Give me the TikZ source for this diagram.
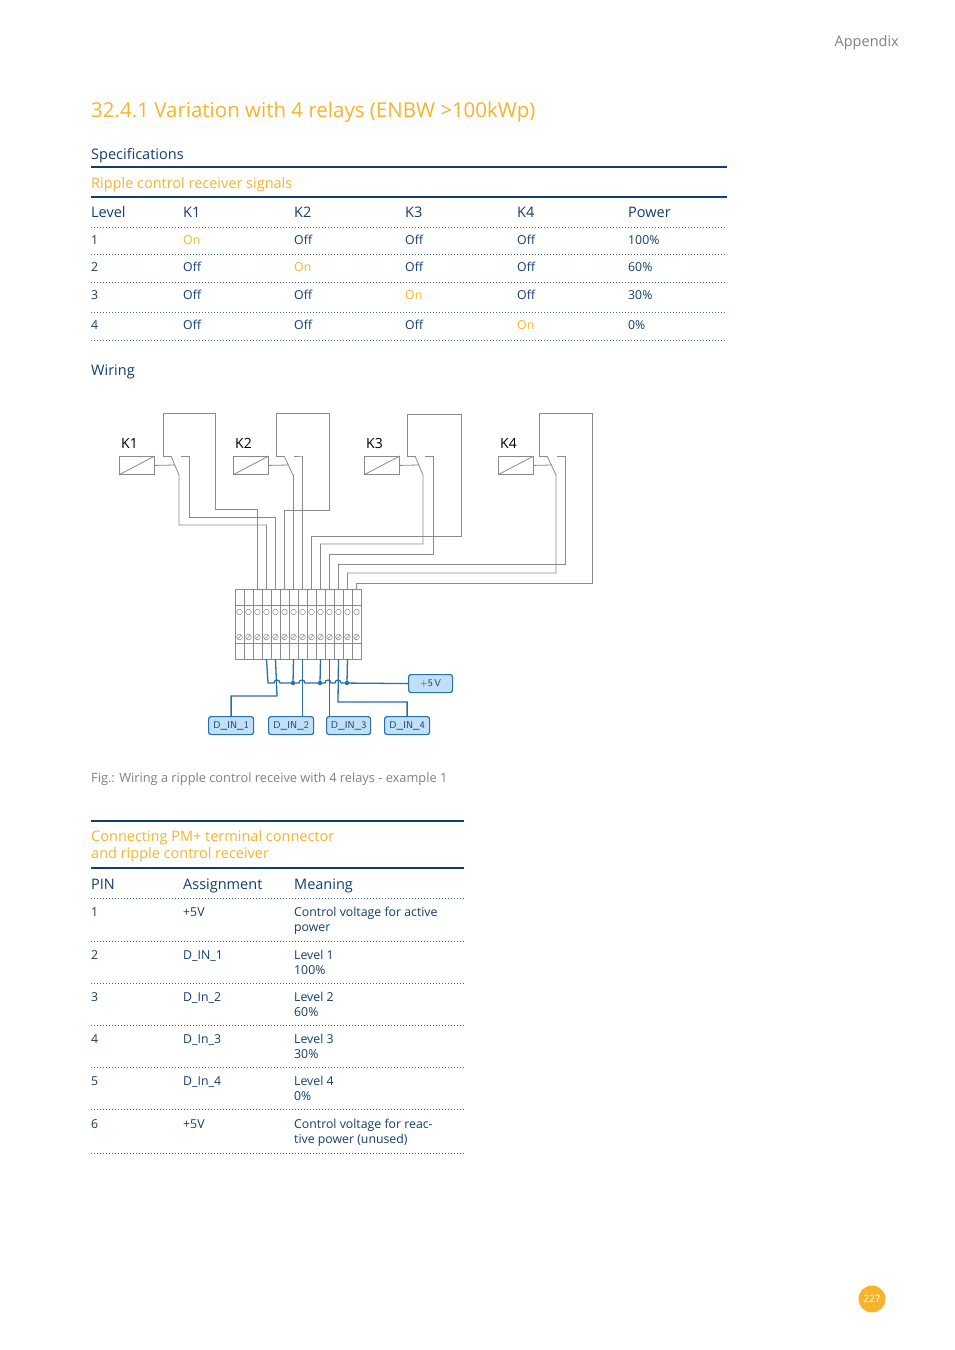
\documentclass[tikz,border=0pt]{standalone}
\usepackage{fontspec}
\setmainfont{Open Sans}
\definecolor{navy}{HTML}{123D6E}
\definecolor{sun}{HTML}{F6B42C}
\definecolor{wire}{HTML}{8A8A8A}
\definecolor{bus}{HTML}{2A6FA8}
\definecolor{pinfill}{HTML}{BFE0F5}
\tikzset{
  txt/.style={anchor=base west, inner sep=0pt, font=\fontsize{12.3}{14}\selectfont, text=navy},
  hdr/.style={anchor=base west, inner sep=0pt, font=\fontsize{14.5}{17}\selectfont, text=navy},
  orng/.style={anchor=base west, inner sep=0pt, font=\fontsize{14.5}{17}\selectfont, text=sun},
  thick rule/.style={navy, line width=2.6pt},
  dotrule/.style={navy!80, line width=0.9pt, dash pattern=on 0.9pt off 2.1pt},
  coil/.style={draw=wire, line width=0.8pt, minimum width=35pt, minimum height=18pt, inner sep=0pt},
  gw/.style={wire, line width=0.8pt},
  bw/.style={bus, line width=1.3pt},
  pin/.style={draw=bus, line width=1.2pt, fill=pinfill, rounded corners=2.5pt, minimum width=44pt,
    minimum height=18pt, inner sep=0pt, font=\sffamily\fontsize{10}{11}\selectfont, text=navy}
}
\begin{document}
\begin{tikzpicture}[x=1pt,y=-1pt]
  \useasboundingbox (0,0) rectangle (954,1350);

  \node[anchor=base east, inner sep=0pt, font=\fontsize{14.5}{17}\selectfont, text=gray] (app) at (899,46) {Appendix};
  \node[anchor=base west, inner sep=0pt, font=\fontsize{20.5}{24}\selectfont, text=sun] (title) at (91,117)
    {32.4.1 Variation with 4 relays (ENBW >100kWp)};

  %% specification table
  \node[hdr] (spec) at (91,159) {Specifications};
  \draw[thick rule] (91,167) -- (727,167);
  \node[orng] (ripple) at (91,188) {Ripple control receiver signals};
  \draw[thick rule] (91,197) -- (727,197);
  \foreach \t/\x in {Level/91,K1/183,K2/294,K3/405,K4/517,Power/628}
    \node[hdr] at (\x,217) {\t};
  \foreach \y in {227,254,282,312,340}
    \draw[dotrule] (91,\y) -- (727,\y);
  \foreach \lv/\y/\pw in {1/244/100\%,2/271/60\%,3/299/30\%,4/329/0\%} {
    \node[txt] at (91,\y) {\lv};
    \foreach \k/\x in {1/183,2/294,3/405,4/517} {
      \ifnum\k=\lv
        \node[txt, text=sun] at (\x,\y) {On};
      \else
        \node[txt] at (\x,\y) {Off};
      \fi
    }
    \node[txt] at (628,\y) {\pw};
  }

  \node[hdr] (wiring) at (91,375) {Wiring};

  %% relays
  \foreach \n/\x in {1/119,2/233,3/364,4/498} {
    \node[coil, anchor=north west] (k\n) at (\x,456) {};
    \draw[gw] (k\n.south west) -- (k\n.north east);
    \node[anchor=base west, inner sep=0pt, font=\fontsize{14}{16}\selectfont] at (\x+2,448) {K\n};
  }

  %% terminal block
  \node[draw=wire, line width=0.8pt, minimum width=126pt, minimum height=70pt, inner sep=0pt,
    anchor=north west] (block) at (235,589) {};
  \draw[gw] (235,605) -- (361,605) (235,643) -- (361,643);
  \foreach \i in {0,...,13} {
    \coordinate (t\i) at (239.5+9*\i,589);
    \coordinate (b\i) at (239.5+9*\i,659);
    \draw[gw] (235+9*\i,589) -- (235+9*\i,659);
    \draw[wire, line width=0.5pt] (239.5+9*\i,612) circle (2.8);
    \draw[wire, line width=0.5pt] (239.5+9*\i,637) circle (2.8);
    \draw[wire, line width=0.5pt] (237.5+9*\i,639) -- (241.5+9*\i,635);
  }

  %% relay contacts to terminals
  \draw[gw] (171,456) -- (163,456) -- (163,413) -- (215,413) -- (215,509) -| (t2);
  \draw[gw] (k1.east) -- (175,465) (171,456) -- (179,475) -- (179,525) -| (t3);
  \draw[gw] (181,456) -- (189,456) -- (189,517) -| (t4);

  \draw[gw] (284,456) -- (276,456) -- (276,413) -- (329,413) -- (329,510) -| (t5);
  \draw[gw] (k2.east) -- (289,465) (284,456) -- (293,475) -| (t6);
  \draw[gw] (294,456) -- (303,456) -| (t7);

  \draw[gw] (415,456) -- (407,456) -- (407,414) -- (461,414) -- (461,536) -| (t8);
  \draw[gw] (k3.east) -- (419,465) (415,456) -- (423,475) -- (423,544) -| (t9);
  \draw[gw] (425,456) -- (433,456) -- (433,554) -| (t10);

  \draw[gw] (547,456) -- (539,456) -- (539,413) -- (592,413) -- (592,583) -| (t13);
  \draw[gw] (k4.east) -- (552,465) (547,456) -- (556,475) -- (556,573) -| (t12);
  \draw[gw] (557,456) -- (565,456) -- (565,564) -| (t11);

  %% digital inputs
  \node[pin, anchor=north west] (v5) at (408,674) {+5\,V};
  \node[pin, anchor=north west, minimum width=45pt] (in1) at (208,716) {D\_IN\_1};
  \node[pin, anchor=north west, minimum width=45pt] (in2) at (268,716) {D\_IN\_2};
  \node[pin, anchor=north west, minimum width=44pt] (in3) at (326,716) {D\_IN\_3};
  \node[pin, anchor=north west, minimum width=45pt] (in4) at (384,716) {D\_IN\_4};

  \draw[bw] (b3) -- (268,683) -- (274,683) arc(180:360:3) -- (299,683) arc(180:360:3)
    -- (325,683) arc(180:360:3) -- (335,683) arc(180:360:3) -- (v5.west);
  \draw[bw] (b6) -- (293,683) (b9) -- (320,683) (b12) -- (347,683);
  \foreach \x in {293,320,347}
    \fill[bus] (\x,683) circle (2.2);
  \draw[bw] (b4) -- (277,696) -| (in1.north);
  \draw[bw] (b7) -- (in2.north -| b7);
  \draw[bw] (b10) -- (in3.north -| b10);
  \draw[bw] (b11) -- (338,702) -| (in4.north);

  \node[anchor=base west, inner sep=0pt, font=\fontsize{12.8}{15}\selectfont, text=gray] (cap) at (91,782)
    {Fig.: Wiring a ripple control receive with 4 relays - example 1};

  %% terminal connector table
  \draw[thick rule] (91,821) -- (464,821);
  \node[orng] (conn) at (91,841) {Connecting PM+ terminal connector};
  \node[orng] (conn2) at (91,858) {and ripple control receiver};
  \draw[thick rule] (91,868) -- (464,868);
  \foreach \t/\x in {PIN/91,Assignment/183,Meaning/294}
    \node[hdr] at (\x,889) {\t};
  \foreach \y in {898,941,983,1025,1067,1109,1153}
    \draw[dotrule] (91,\y) -- (464,\y);
  \foreach \p/\y/\a/\m/\n in {1/916/+5V/Control voltage for active/power,
      2/959/D\_IN\_1/Level 1/100\%, 3/1001/D\_In\_2/Level 2/60\%,
      4/1043/D\_In\_3/Level 3/30\%, 5/1085/D\_In\_4/Level 4/0\%,
      6/1128/+5V/Control voltage for reac-/tive power (unused)} {
    \node[txt] at (91,\y) {\p};
    \node[txt] at (183,\y) {\a};
    \node[txt] at (294,\y) {\m};
    \node[txt] at (294,\y+15) {\n};
  }

  \node[circle, fill=sun, minimum size=27pt, inner sep=0pt, text=white,
    font=\fontsize{10}{12}\selectfont] (page) at (872,1299) {227};
\end{tikzpicture}
\end{document}
